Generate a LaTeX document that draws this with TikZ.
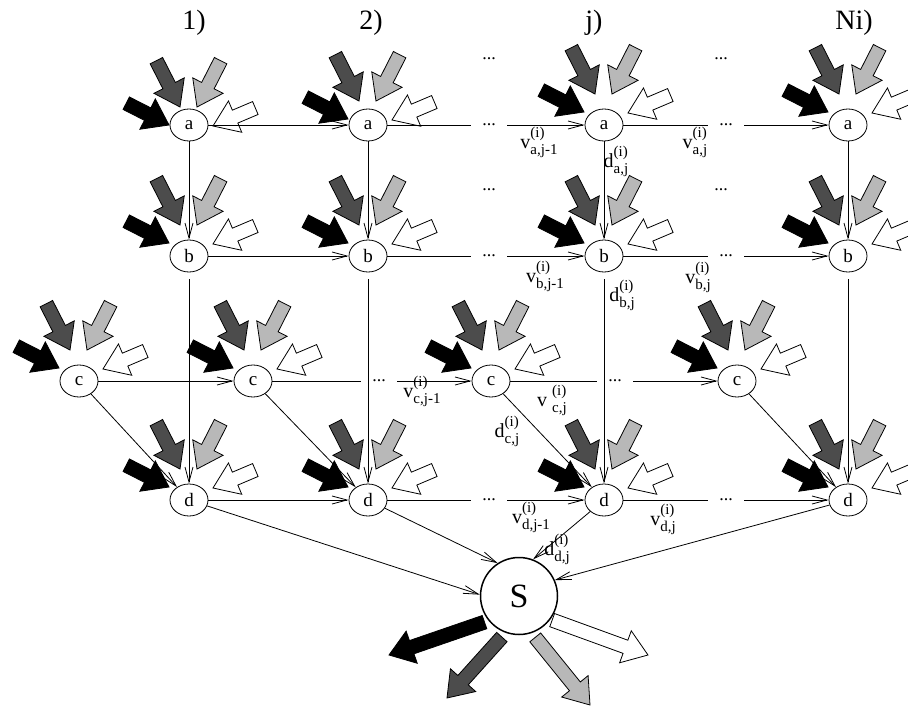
\documentclass[tikz,border=0pt]{standalone}
\usepackage{fontspec}
\setmainfont{Liberation Serif}
\usepackage{tikz}
\usetikzlibrary{arrows.meta, shapes}

\newcommand{\chico}{\fontsize{15}{15}\selectfont}
\newcommand{\etiq}[2]{#1\rlap{\raisebox{11pt}{\chico(i)}}\raisebox{-6pt}{\chico #2}}

\tikzset{
	every node/.style={
		font=\fontsize{19}{21}\selectfont
	},
	estado/.style={
		shape=ellipse,
		draw,
		line width=0.8pt,
		minimum width=38pt,
		minimum height=32pt,
		inner sep=0pt,
		fill=white
	},
	sumidero/.style={
		shape=circle,
		draw,
		line width=1.5pt,
		minimum size=77pt,
		fill=white,
		font=\fontsize{34}{36}\selectfont
	},
	titulo/.style={
		font=\fontsize{28}{30}\selectfont
	},
	puntos/.style={
		minimum width=36pt,
		inner sep=0pt,
		font=\fontsize{18}{18}\selectfont
	},
	etiqueta/.style={
		inner sep=0pt,
		font=\fontsize{20}{22}\selectfont
	},
	enlace/.style={
		-{Straight Barb[length=15pt,width=8pt]},
		line width=0.8pt
	},
	linea/.style={
		line width=0.8pt
	},
	flecha/.pic={
		\draw[pic actions, line width=0.8pt, line join=miter]
			(0,0) -- (-24,17) -- (-24,7) -- (-#1,7) -- (-#1,-7) -- (-24,-7) -- (-24,-17) -- cycle;
	}
}

\begin{document}
\begin{tikzpicture}[x=1pt, y=-1pt]
	\useasboundingbox (0,0) rectangle (908,709);
	
	\node[titulo] (t1) at (194,23) {1)};
	\node[titulo] (t2) at (371,23) {2)};
	\node[titulo] (tj) at (594,23) {j)};
	\node[titulo] (tn) at (854,23) {Ni)};
	
	\foreach \x/\y/\n/\l/\s in {
			189/125/a1/a/13, 368/125/a2/a/7, 604/125/aj/a/0, 848/125/an/a/0,
			189/256/b1/b/0, 368/256/b2/b/0, 604/256/bj/b/0, 848/256/bn/b/0,
			79/381/c1/c/0, 253/381/c2/c/0, 491/381/cj/c/0, 737/381/cn/c/0,
			189/500/d1/d/0, 368/500/d2/d/0, 604/500/dj/d/0, 848/500/dn/d/0
		} {
			\pic[fill=black, rotate=-27] at ({\x-20},{\y-13+\s}) {flecha=48};
			\pic[fill=black!70, rotate=-63] at ({\x-9},{\y-31+\s}) {flecha=52};
			\pic[fill=black!28, rotate=-117] at ({\x+8},{\y-31+\s}) {flecha=52};
			\pic[fill=white, rotate=-157] at ({\x+24},{\y-12+\s}) {flecha=46};
			\node[estado] (\n) at (\x,\y) {\l};
		}
	
	\node[sumidero] (S) at (519,596) {S};
	
	\pic[fill=black, rotate=-161] at (389,655) {flecha=101};
	\pic[fill=black!70, rotate=-132] at (447,698) {flecha=82};
	\pic[fill=black!28, rotate=-51] at (590,705) {flecha=87};
	\pic[fill=white, rotate=-20] at (648,655) {flecha=102};
	
	\foreach \n/\x/\y in {
			pa1/489/125, pa2/726/125, pb1/489/256, pb2/726/256,
			pc1/379/381, pc2/615/381, pd1/489/500, pd2/726/500,
			qa1/489/59, qa2/721/59, qb1/489/190, qb2/721/190
		} {
			\node[puntos] (\n) at (\x,\y) {...};
		}
	
	\foreach \f in {a,b,c,d} {
			\draw[enlace] (\f1) -- (\f2);
			\draw[linea] (\f2) -- (p\f1);
			\draw[enlace] (p\f1) -- (\f j);
			\draw[linea] (\f j) -- (p\f2);
			\draw[enlace] (p\f2) -- (\f n);
		}
	
	\foreach \c/\ang in {1/178, 2/123, j/69, n/24} {
			\draw[enlace] (a\c) -- (b\c);
			\draw[enlace, shorten <=7pt] (b\c) -- (d\c);
			\draw[enlace] (c\c) -- (d\c);
			\draw[enlace] (d\c) -- (S.\ang);
		}
	
	\node[etiqueta] (va1) at (539,142) {\etiq{v}{a,j-1}};
	\node[etiqueta] (va2) at (695,142) {\etiq{v}{a,j}};
	\node[etiqueta] (da) at (616,161) {\etiq{d}{a,j}};
	\node[etiqueta] (vb1) at (545,276) {\etiq{v}{b,j-1}};
	\node[etiqueta] (vb2) at (698,277) {\etiq{v}{b,j}};
	\node[etiqueta] (db) at (622,295) {\etiq{d}{b,j}};
	\node[etiqueta] (vc1) at (422,391) {\etiq{v}{c,j-1}};
	\node[etiqueta] (vc2) at (552,400) {\etiq{v\ }{c,j}};
	\node[etiqueta] (dc) at (507,431) {\etiq{d}{c,j}};
	\node[etiqueta] (vd1) at (531,517) {\etiq{v}{d,j-1}};
	\node[etiqueta] (vd2) at (663,519) {\etiq{v}{d,j}};
	\node[etiqueta] (dd) at (557,549) {\etiq{d}{d,j}};
	
\end{tikzpicture}
\end{document}
